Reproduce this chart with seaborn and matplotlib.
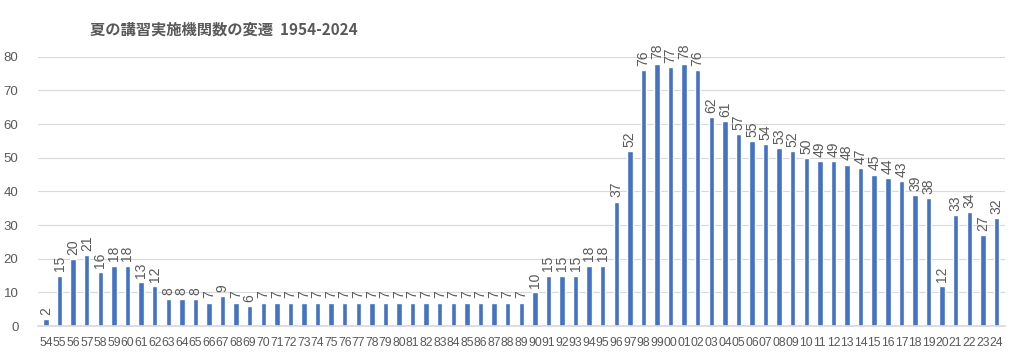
import matplotlib
matplotlib.use("Agg")
import matplotlib.pyplot as plt
import seaborn as sns
import pandas as pd

# Number of institutions running summer courses, 1954-2024
YEARS = list(range(1954, 2025))
COUNTS = [
    2, 15, 20, 21, 16, 18, 18, 13, 12, 8, 8, 8, 7, 9, 7, 6,          # 1954-1969
    7, 7, 7, 7, 7, 7, 7, 7, 7, 7, 7, 7, 7, 7, 7, 7, 7, 7, 7, 7,       # 1970-1989
    10, 15, 15, 15, 18, 18, 37, 52, 76, 78,                           # 1990-1999
    77, 78, 76, 62, 61, 57, 55, 54, 53, 52,                           # 2000-2009
    50, 49, 49, 48, 47, 45, 44, 43, 39, 38,                           # 2010-2019
    12, 33, 34, 27, 32,                                               # 2020-2024
]
YEAR_LABELS = [f"{y % 100:02d}" for y in YEARS]
TITLE = "夏の講習実施機関数の変遷  1954-2024"

BAR_COLOR = "#4472C4"
TEXT_COLOR = "#595959"

sns.set_theme(style="white")
plt.rcParams["font.family"] = ["Liberation Sans", "DejaVu Sans"]

df = pd.DataFrame({"year": YEAR_LABELS, "count": COUNTS})

fig = plt.figure(figsize=(10.24, 3.62), dpi=100)
ax = fig.add_axes([0.037, 0.099, 0.944, 0.744])

sns.barplot(data=df, x="year", y="count", color=BAR_COLOR, width=0.4,
            saturation=1, ax=ax)

ax.bar_label(ax.containers[0], labels=[str(v) for v in COUNTS], rotation=90,
             padding=3, fontsize=10, color=TEXT_COLOR)

ax.set_ylim(0, 80)
ax.set_yticks(range(0, 81, 10))
ax.set_xlim(-0.6, len(YEARS) - 0.4)
ax.yaxis.grid(True, color="#D9D9D9", linewidth=0.8)
ax.set_axisbelow(True)
for side in ["top", "right", "left"]:
    ax.spines[side].set_visible(False)
ax.spines["bottom"].set_color("#D9D9D9")
ax.tick_params(axis="both", length=0, labelcolor=TEXT_COLOR)
# two-digit year labels sit edge to edge, as in the original
ax.tick_params(axis="x", pad=8, labelsize=8.7)
ax.tick_params(axis="y", pad=14, labelsize=9.5)
ax.set_xlabel("")
ax.set_ylabel("")

fig.text(90 / 1024, 1 - 30 / 362, TITLE, fontsize=11, fontweight="bold",
         color=TEXT_COLOR, va="center", ha="left",
         family=["Noto Sans CJK JP", "DejaVu Sans"])

fig.savefig("out.png", dpi=100)
plt.close(fig)
